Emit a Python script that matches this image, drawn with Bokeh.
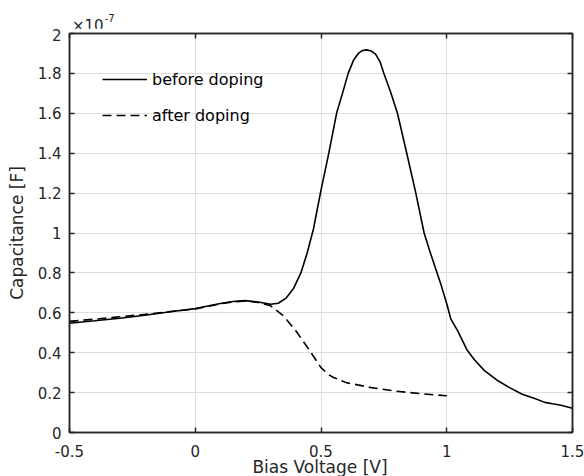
from bokeh.plotting import figure
from bokeh.layouts import column
from bokeh.models import (Range1d, LinearAxis, FixedTicker, Legend, LegendItem, Grid, Div)
from bokeh.embed import file_html
from bokeh.resources import INLINE

# ---- data (capacitance in units of 1e-7 F) ----
before_v = [-0.5, -0.4, -0.3, -0.2, -0.1, 0.0, 0.05, 0.1, 0.15, 0.2, 0.25, 0.3, 0.33,
            0.36, 0.39, 0.42, 0.445, 0.47, 0.5, 0.531, 0.562, 0.59, 0.608, 0.63, 0.65,
            0.665, 0.681, 0.70, 0.717, 0.735, 0.75, 0.777, 0.804, 0.841, 0.877, 0.91,
            0.936, 0.976, 1.0, 1.016, 1.043, 1.08, 1.11, 1.15, 1.2, 1.25, 1.3, 1.35,
            1.39, 1.42, 1.45, 1.5]
before_c = [0.548, 0.560, 0.573, 0.588, 0.605, 0.621, 0.634, 0.647, 0.657, 0.661, 0.654,
            0.643, 0.648, 0.672, 0.720, 0.800, 0.900, 1.020, 1.215, 1.400, 1.600, 1.720,
            1.800, 1.868, 1.902, 1.915, 1.918, 1.912, 1.897, 1.858, 1.800, 1.706, 1.600,
            1.400, 1.200, 1.000, 0.896, 0.746, 0.645, 0.570, 0.511, 0.415, 0.365, 0.310,
            0.262, 0.225, 0.192, 0.170, 0.151, 0.144, 0.138, 0.122]

after_v = [-0.5, -0.4, -0.3, -0.2, -0.1, 0.0, 0.1, 0.15, 0.2, 0.25, 0.3, 0.35, 0.4,
           0.45, 0.5, 0.53, 0.55, 0.6, 0.7, 0.8, 0.9, 1.0]
after_c = [0.557, 0.568, 0.580, 0.592, 0.606, 0.619, 0.645, 0.655, 0.659, 0.652, 0.635,
           0.585, 0.510, 0.420, 0.325, 0.290, 0.276, 0.250, 0.225, 0.207, 0.194, 0.184]

x_ticks = [-0.5, 0, 0.5, 1, 1.5]
x_tick_labels = ["-0.5", "0", "0.5", "1", "1.5"]
y_ticks = [0, 0.2, 0.4, 0.6, 0.8, 1.0, 1.2, 1.4, 1.6, 1.8, 2.0]
y_tick_labels = ["0", "0.2", "0.4", "0.6", "0.8", "1", "1.2", "1.4", "1.6", "1.8", "2"]

series_names = ["before doping", "after doping"]
scale_base, scale_exp = "\u00d710", "-7"
x_title = "Bias Voltage [V]"
y_title = "Capacitance [F]"

FONT = "DejaVu Sans"
DARK = "#262626"

# ---- header strip holding the x10^-7 exponent label ----
hdr = Div(
    text=('<div style="position:absolute; left:72px; top:17px; margin:0; padding:0; '
          'font-family:\'DejaVu Sans\'; font-size:15px; line-height:18px; color:#262626; '
          'white-space:nowrap;">' + scale_base +
          '<span style="font-size:10px; position:relative; top:-9px; margin-left:1px;">'
          + scale_exp + '</span></div>'),
    width=584, height=28, margin=0,
    styles={"position": "relative", "overflow": "visible"})

# ---- footer strip holding the x-axis title ----
ftr = Div(
    text=('<div style="position:absolute; left:0px; top:-6px; width:640px; margin:0; '
          'padding:0; text-align:center; font-family:\'DejaVu Sans\'; font-size:17px; '
          'line-height:20px; color:#262626; white-space:nowrap;">' + x_title + '</div>'),
    width=584, height=13, margin=0,
    styles={"position": "relative", "overflow": "visible"})

# ---- main plot ----
p = figure(width=584, height=435, output_backend="svg", toolbar_location=None,
           x_range=Range1d(-0.5, 1.5), y_range=Range1d(0, 2),
           min_border_left=69, min_border_right=12, min_border_top=5, min_border_bottom=31)
p.xaxis.visible = False
p.yaxis.visible = False
p.xgrid.visible = False
p.ygrid.visible = False
p.outline_line_color = DARK
p.outline_line_width = 1.5


def style_axis(ax, labels, ticks, show_labels):
    ax.ticker = FixedTicker(ticks=ticks)
    ax.major_tick_in = 5
    ax.major_tick_out = 0
    ax.minor_tick_in = 0
    ax.minor_tick_out = 0
    ax.axis_line_color = DARK
    ax.axis_line_width = 1.5
    ax.major_tick_line_color = DARK
    ax.major_tick_line_width = 1.5
    ax.major_label_text_font = FONT
    ax.major_label_text_color = DARK
    if show_labels:
        ax.major_label_overrides = {t: l for t, l in zip(ticks, labels)}
        ax.major_label_text_font_size = "15px"
    else:
        ax.major_label_overrides = {t: "" for t in ticks}
        ax.major_label_text_font_size = "1px"
        ax.major_label_standoff = 0
    ax.axis_label_text_font = FONT
    ax.axis_label_text_font_size = "17px"
    ax.axis_label_text_font_style = "normal"
    ax.axis_label_text_color = DARK


xb = LinearAxis()
style_axis(xb, x_tick_labels, x_ticks, True)
xb.major_label_standoff = 12
p.add_layout(xb, "below")

yl = LinearAxis(axis_label=y_title)
style_axis(yl, y_tick_labels, y_ticks, True)
yl.major_label_standoff = 8
yl.axis_label_standoff = 8
p.add_layout(yl, "left")

xt = LinearAxis()
style_axis(xt, x_tick_labels, x_ticks, False)
p.add_layout(xt, "above")

yr = LinearAxis()
style_axis(yr, y_tick_labels, y_ticks, False)
p.add_layout(yr, "right")

p.add_layout(Grid(dimension=0, ticker=FixedTicker(ticks=x_ticks),
                  grid_line_color="#dedede", grid_line_width=1))
p.add_layout(Grid(dimension=1, ticker=FixedTicker(ticks=y_ticks),
                  grid_line_color="#dedede", grid_line_width=1))

r1 = p.line(before_v, before_c, line_color="black", line_width=1.6)
r2 = p.line(after_v, after_c, line_color="black", line_width=1.6, line_dash="9 5")

legend = Legend(items=[LegendItem(label=series_names[0], renderers=[r1]),
                       LegendItem(label=series_names[1], renderers=[r2])],
                location=(33, 307), border_line_color=None, background_fill_alpha=0,
                padding=0, margin=0, spacing=16, glyph_width=45, glyph_height=20,
                label_height=20, label_standoff=5, label_text_font=FONT,
                label_text_font_size="16px", label_text_color="black")
p.add_layout(legend)

layout = column(hdr, p, ftr, spacing=0)
open("out.html", "w").write(file_html(layout, INLINE))
